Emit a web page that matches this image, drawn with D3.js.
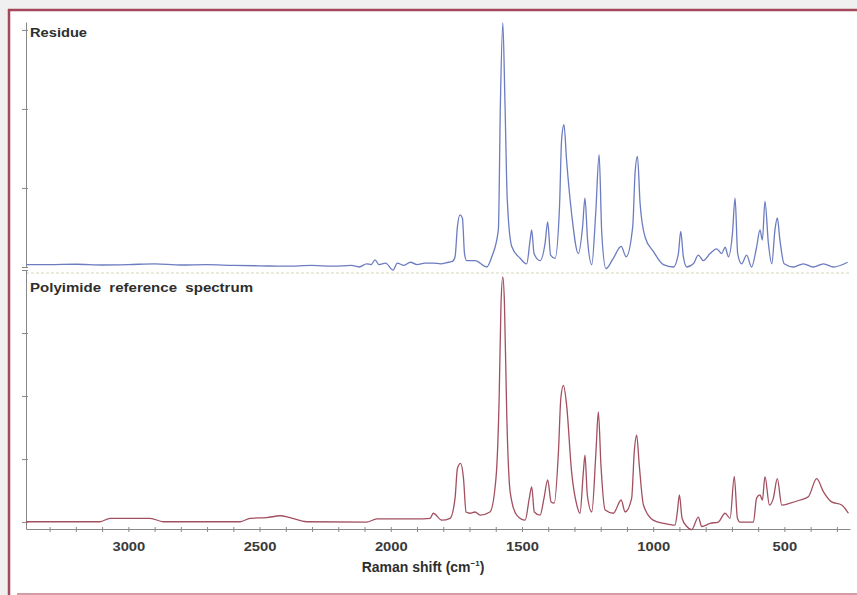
<!DOCTYPE html>
<html>
<head>
<meta charset="utf-8">
<script src="https://cdn.jsdelivr.net/npm/d3@7"></script>
<style>
  body { margin: 0; background: #f0f0f0; }
  text { font-family: "Liberation Sans", Arial, sans-serif; }
</style>
</head>
<body>
<svg width="857" height="595"></svg>
<script>
// Raman shift (cm-1) and intensity, residue spectrum
var residueShift = [3390,3300,3200,3100,3000,2900,2800,2700,2600,2500,2400,2300,2220,2150,2120,2092,2075,2060,2045,2020,1991,1975,1950,1925,1900,1870,1839,1810,1780,1765,
  1755,1746,1736,1727,1719,1711,1679,1634,1615,1590,1582,1573,1565,1556,1539,1507,1482,1469,1463,1454,1431,1412,1402,1391,1374,
  1357,1349,1340,1330,1311,1285,1269,1260,1250,1234,1219,1206,1196,1180,1152,1122,1103,1078,1069,1060,1050,1031,1000,961,923,
  904,895,885,872,847,828,809,783,758,739,726,713,698,688,678,663,644,625,606,593,584,574,561,548,536,527,517,501,466,428,390,351,313,259];
var residueCounts = [0.03,0.03,0.035,0.025,0.03,0.04,0.025,0.03,0.02,0.015,0.01,0.02,0.01,0.02,0.0,0.04,0.03,0.09,0.03,0.05,-0.04,0.05,0.02,0.06,0.03,0.05,0.05,0.04,0.06,0.07,
  0.13,0.51,0.66,0.62,0.17,0.08,0.08,0.0,0.13,0.47,2.11,3.09,2.11,0.85,0.26,0.11,0.04,0.34,0.47,0.17,0.08,0.30,0.57,0.15,0.11,
  0.76,1.61,1.80,1.35,0.68,0.17,0.51,0.87,0.34,0.03,0.68,1.42,0.43,-0.02,0.11,0.26,0.13,0.51,1.19,1.40,0.81,0.38,0.20,0.03,0.0,
  0.17,0.45,0.13,0.0,0.04,0.15,0.08,0.17,0.23,0.17,0.25,0.13,0.42,0.87,0.17,0.04,0.15,0.0,0.25,0.47,0.34,0.83,0.30,0.04,0.47,0.62,0.34,0.04,0.0,0.04,0.0,0.04,0.0,0.06];

// polyimide reference spectrum
var polyShift = [3390,3108,3070,2917,2867,2574,2536,2473,2422,2384,2320,2092,2053,1900,1850,1838,1806,1774,1755,1746,1734,1723,1713,1698,1679,1660,1622,
  1599,1587,1580,1573,1567,1558,1545,1520,1488,1472,1463,1453,1431,1416,1402,1389,1377,1361,1352,1342,1330,1311,1291,1279,1266,1260,1251,
  1234,1218,1209,1199,1183,1152,1122,1107,1082,1072,1063,1053,1037,1000,961,917,908,900,890,872,853,828,815,783,752,726,707,691,679,669,
  618,606,593,584,574,557,542,527,510,478,440,409,377,351,320,282,256];
var polyCounts = [0.005,0.005,0.06,0.06,0.005,0.005,0.06,0.07,0.10,0.07,0.005,0.0,0.05,0.05,0.06,0.14,0.03,0.06,0.38,0.85,0.93,0.70,0.16,0.14,0.16,0.11,0.16,
  0.70,1.96,3.44,3.89,3.50,1.70,0.48,0.11,0.03,0.38,0.56,0.16,0.11,0.38,0.67,0.32,0.30,1.12,1.96,2.17,1.86,0.80,0.27,0.14,0.80,1.06,0.43,
  0.16,1.12,1.75,0.90,0.19,0.14,0.35,0.16,0.38,1.12,1.38,0.90,0.27,0.03,-0.02,-0.05,0.16,0.43,0.06,-0.07,-0.12,0.08,-0.07,-0.02,0.0,0.14,0.06,0.72,0.06,0.0,
  0.0,0.38,0.43,0.35,0.72,0.27,0.38,0.69,0.27,0.30,0.35,0.40,0.69,0.48,0.32,0.27,0.14];

var xTickLabels = [3000, 2500, 2000, 1500, 1000, 500];
var panelTitles = ["Residue", "Polyimide  reference  spectrum"];
var topTicks = [0, 1, 2, 3];
var bottomTicks = [0, 1, 2, 3, 4];

var svg = d3.select("svg");

// page frame
svg.append("rect").attr("width", 857).attr("height", 595).attr("fill", "#f0f0f0");
svg.append("rect").attr("x", 9).attr("y", 10).attr("width", 848).attr("height", 585).attr("fill", "#fff");
svg.append("line").attr("x1", 8).attr("x2", 857).attr("y1", 10).attr("y2", 10)
    .attr("stroke", "#a3485a").attr("stroke-width", 2.5);
svg.append("line").attr("x1", 9).attr("x2", 9).attr("y1", 9).attr("y2", 595)
    .attr("stroke", "#a3485a").attr("stroke-width", 2.5);
svg.append("line").attr("x1", 17).attr("x2", 857).attr("y1", 594).attr("y2", 594)
    .attr("stroke", "#c9788a").attr("stroke-width", 1.5);

var x = d3.scaleLinear().domain([3390, 250]).range([26, 850]);
var yTop = d3.scaleLinear().domain([0, 3.1]).range([267, 22]);
var yBot = d3.scaleLinear().domain([-0.11, 4]).range([529, 270]);

// separator between the two panels
svg.append("line").attr("x1", 26).attr("x2", 850).attr("y1", 273).attr("y2", 273)
    .attr("stroke", "#dfe5cf").attr("stroke-width", 1.5).attr("stroke-dasharray", "3,2");

function yAxis(scale, ticks) {
  var g = svg.append("g").attr("transform", "translate(26,0)")
    .call(d3.axisLeft(scale).tickValues(ticks).tickSize(4).tickSizeOuter(0).tickFormat(""));
  g.select(".domain").attr("stroke", "#888");
  g.selectAll(".tick line").attr("x1", 2).attr("stroke", "#888");
}
yAxis(yTop, topTicks);
yAxis(yBot, bottomTicks);

var xg = svg.append("g").attr("transform", "translate(0,529)")
  .call(d3.axisBottom(x).tickValues(d3.range(300, 3400, 100)).tickSize(3).tickSizeOuter(0).tickPadding(10)
    .tickFormat(function(d) { return xTickLabels.indexOf(d) >= 0 ? d : ""; }));
xg.select(".domain").attr("stroke", "#888");
xg.selectAll(".tick line").attr("y1", -2).attr("stroke", "#888");
xg.selectAll(".tick text").attr("font-size", 12).attr("font-weight", "bold").attr("fill", "#3a3a3a")
    .filter(function(d) { return xTickLabels.indexOf(d) >= 0; })
    .attr("textLength", function(d) { return String(d).length * 8.2; })
    .attr("lengthAdjust", "spacingAndGlyphs");

var title = svg.append("text").attr("x", 423).attr("y", 572).attr("text-anchor", "middle")
    .attr("font-size", 14).attr("font-weight", "bold").attr("fill", "#2e2e2e");
title.append("tspan").text("Raman shift (cm");
title.append("tspan").attr("font-size", 8).attr("dy", -6).text("−1");
title.append("tspan").attr("dy", 6).text(")");

svg.append("text").attr("x", 30).attr("y", 37).attr("font-size", 12).attr("font-weight", "bold")
    .attr("fill", "#2e2e2e").attr("textLength", 57).attr("lengthAdjust", "spacingAndGlyphs")
    .text(panelTitles[0]);
svg.append("text").attr("x", 30).attr("y", 292).attr("font-size", 12).attr("font-weight", "bold")
    .attr("fill", "#2e2e2e").attr("textLength", 223).attr("lengthAdjust", "spacingAndGlyphs")
    .attr("xml:space", "preserve").text(panelTitles[1]);

var residueLine = d3.line().curve(d3.curveMonotoneX)
    .x(function(d, i) { return x(residueShift[i]); }).y(function(d) { return yTop(d); });
var polyLine = d3.line().curve(d3.curveMonotoneX)
    .x(function(d, i) { return x(polyShift[i]); }).y(function(d) { return yBot(d); });

svg.append("path").datum(residueCounts).attr("d", residueLine)
    .attr("fill", "none").attr("stroke", "#6c7cc0").attr("stroke-width", 1.3).attr("stroke-linejoin", "round");
svg.append("path").datum(polyCounts).attr("d", polyLine)
    .attr("fill", "none").attr("stroke", "#a24f60").attr("stroke-width", 1.3).attr("stroke-linejoin", "round");
</script>
</body>
</html>
